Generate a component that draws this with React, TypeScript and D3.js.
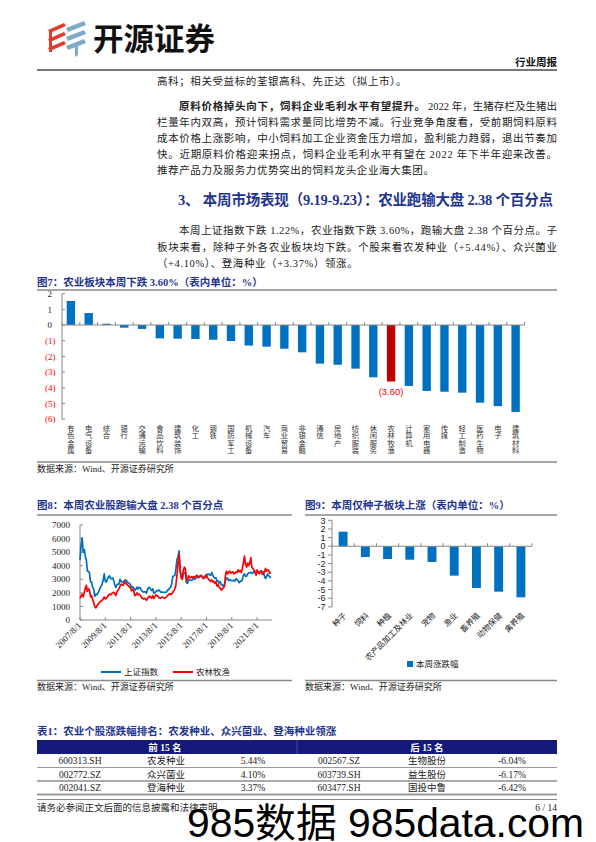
import React from "react";
import * as d3 from "d3";

// ---------- Figure 7 data ----------
const industries = ["有色金属","电气设备","综合","银行","交通运输","食品饮料","建筑装饰","化工","钢铁","国防军工","机械设备","汽车","商业贸易","非银金融","通信","房地产","纺织服装","休闲服务","农林牧渔","计算机","家用电器","传媒","轻工制造","医药生物","电子","建筑材料"];
const industryChanges = [1.53,0.76,0.08,-0.17,-0.25,-0.85,-0.87,-0.89,-0.94,-1.02,-1.31,-1.38,-1.51,-1.74,-2.46,-2.53,-2.78,-3.33,-3.60,-3.88,-4.20,-4.25,-4.31,-4.95,-5.17,-5.54];
const fig7Ticks = [2,1,0,-1,-2,-3,-4,-5,-6];
const highlightIndustry = "农林牧渔";

// ---------- Figure 8 data (monthly, 2007/8 - 2022/9) ----------
const sseValues = [
4400,5500,6050,5000,5200,
4700,4400,3600,3600,3450,2800,2800,2400,2250,1750,1900,1850,
1990,2150,2350,2500,2650,2950,3400,2850,2800,3000,3200,3250,
3050,3050,3100,2900,2600,2400,2600,2650,2650,3000,2850,2800,
2780,2900,2950,2920,2750,2750,2700,2580,2380,2450,2350,2200,
2280,2420,2280,2400,2380,2230,2110,2060,2080,2070,1980,2250,
2380,2380,2250,2180,2300,1990,2000,2100,2170,2150,2210,2120,
2040,2060,2040,2030,2040,2050,2200,2220,2360,2420,2680,3200,
3250,3300,3750,4450,4650,5100,3700,3250,3050,3380,3450,3550,
2750,2700,3000,2940,2920,2930,2980,3080,3000,3100,3250,3110,
3160,3240,3220,3150,3120,3190,3270,3360,3350,3390,3320,3310,
3500,3260,3170,3080,3100,2850,2880,2720,2820,2600,2590,2490,
2590,2940,3090,3080,2900,2980,2930,2890,2900,2930,2870,3050,
2980,2880,2750,2860,2850,2980,3310,3400,3220,3220,3390,3470,
3480,3510,3440,3450,3610,3590,3400,3540,3570,3550,3560,3640,
3360,3460,3250,3050,3190,3400,3250,3200,3090];
const agriValues = [
1600,1750,1900,1700,2000,
2350,2550,2100,2300,2200,1700,1800,1500,1300,950,900,1050,
1150,1250,1350,1400,1450,1550,1700,1550,1600,1700,1850,1900,
1850,1950,2000,2050,1950,1800,2050,2200,2300,2500,2650,2600,
2550,2750,2800,2650,2600,2500,2450,2350,2150,2250,2100,1800,
1850,2000,1850,1900,1850,1700,1600,1550,1600,1550,1450,1600,
1700,1750,1650,1600,1800,1600,1700,1850,1800,1750,1650,1600,
1650,1700,1650,1600,1650,1700,1800,1850,1950,1900,1900,2050,
2150,2300,2600,3300,4200,4850,3600,3100,3000,3650,3900,3750,
2900,3000,3250,3150,3100,3200,3100,3200,3150,3250,3300,3200,
3150,3250,3300,3200,3050,3100,3150,3300,3100,3000,2900,2850,
2950,2800,2850,2700,2800,2500,2600,2400,2350,2200,2300,2350,
2500,3300,3600,3400,3500,3600,3450,3500,3550,3400,3450,3550,
3500,3700,3550,3650,3500,3800,4200,4700,4100,3900,4200,4000,
4200,4600,3900,3800,3700,3500,3300,3700,3500,3400,3550,3600,
3400,3550,3500,3800,3600,3700,3650,3450,3500];
const fig8YTicks = [0,1000,2000,3000,4000,5000,6000,7000];
const fig8XTicks = ["2007/8/1","2009/8/1","2011/8/1","2013/8/1","2015/8/1","2017/8/1","2019/8/1","2021/8/1"];
const fig8Series = ["上证指数","农林牧渔"];

// ---------- Figure 9 data ----------
const subsectors = ["种子","饲料","种植","农产品加工及林业","宠物","渔业","畜养殖","动物保健","禽养殖"];
const subsectorChanges = [1.69,-1.24,-1.47,-1.55,-1.81,-3.39,-4.82,-5.24,-5.89];
const fig9Ticks = [3,2,1,0,-1,-2,-3,-4,-5,-6,-7];

// ---------- Table data ----------
const topCodes = ["600313.SH","002772.SZ","002041.SZ"];
const topNames = ["农发种业","众兴菌业","登海种业"];
const topChanges = ["5.44%","4.10%","3.37%"];
const bottomCodes = ["002567.SZ","603739.SH","603477.SH"];
const bottomNames = ["生物股份","益生股份","国投中鲁"];
const bottomChanges = ["-6.04%","-6.17%","-6.42%"];

const SERIF = "'Liberation Serif','Noto Sans CJK SC',serif";
const CJK = "'Noto Sans CJK SC','Liberation Sans',sans-serif";
const SANS = "'Liberation Sans','Noto Sans CJK SC',sans-serif";
const NAVY = "#1F3590";
const BLUE = "#0070C0";
const TEXT = "#222";

export default function App() {
  // Figure 7 scales
  const x7 = d3.scaleBand<string>().domain(industries).range([62, 524.5]).paddingInner(0.53).paddingOuter(0.265);
  const y7 = d3.scaleLinear().domain([-6, 2]).range([419.2, 293.6]);
  const step7 = x7.step();
  const left7 = 62;

  // Figure 8 scales
  const months8 = d3.timeMonth.range(new Date(2007, 7, 1), new Date(2022, 9, 1));
  const fmt = d3.timeFormat("%Y/%-m/%-d");
  const x8 = d3.scaleTime().domain([new Date(2007, 7, 1), new Date(2022, 9, 5)]).range([80, 272]);
  const y8 = d3.scaleLinear().domain([0, 7000]).range([620, 525]);
  const line8 = d3.line<number>().x((_, i) => x8(months8[i])).y(d => y8(d));
  const tickDates8 = fig8XTicks.map(s => {
    const [yy, mm, dd] = s.split("/").map(Number);
    return new Date(yy, mm - 1, dd);
  });

  // Figure 9 scales
  const x9 = d3.scaleBand<string>().domain(subsectors).range([332, 532]).paddingInner(0.6).paddingOuter(0.3);
  const y9 = d3.scaleLinear().domain([-7, 3]).range([606.9, 520.3]);
  const step9 = x9.step();

  const tableRows = topCodes.map((c, i) => i);

  return (
    <svg width={596} height={842} viewBox="0 0 596 842"
      style={{ position: "fixed", left: 0, top: 0, background: "#fff" }}>
      <rect x={0} y={0} width={596} height={842} fill="#fff" />

      {/* ---------- Header / logo ---------- */}
      <g>
        <path d="M48,30 L64,23 L66,26 L50,33 Z" fill="#E23B2E" />
        <path d="M48,39 L64,32 L66,35 L50,42 Z" fill="#E23B2E" />
        <path d="M48,48 L64,41 L66,44 L50,51 Z" fill="#E23B2E" />
        <path d="M49,30 L52,29 L52,52 L49,52 Z" fill="#E23B2E" />
        <path d="M66,28 L84,21 L86,25 L68,32 Z" fill="#7FA9C9" />
        <path d="M66,37 L84,30 L86,34 L68,41 Z" fill="#7FA9C9" />
        <path d="M66,46 L84,39 L86,43 L68,50 Z" fill="#7FA9C9" />
        <path d="M75,46 L78,46 L78,55 L75,57 Z" fill="#7FA9C9" />
        <text x={93} y={50} fontFamily={CJK} fontWeight={700} fontSize={30.5} fill="#111">开源证券</text>
      </g>
      <text x={557} y={66} textAnchor="end" fontFamily={CJK} fontWeight={700} fontSize={10.5} fill="#111">行业周报</text>
      <line x1={37} x2={557} y1={70} y2={70} stroke="#777" strokeWidth={1.8} />

      {/* ---------- Body text ---------- */}
      <g fontFamily={SERIF} fontSize={10.5} fill={TEXT}>
        <text x={157} y={85} letterSpacing={0.6}>高科；相关受益标的荃银高科、先正达（拟上市）。</text>
        <text x={179} y={109.5} fontWeight={700} textLength={246} lengthAdjust="spacing">原料价格掉头向下，饲料企业毛利水平有望提升。</text>
        <text x={428} y={109.5} textLength={129} lengthAdjust="spacing">2022 年，生猪存栏及生猪出</text>
        <text x={157} y={125.7} textLength={400} lengthAdjust="spacing">栏量年内双高，预计饲料需求量同比增势不减。行业竞争角度看，受前期饲料原料</text>
        <text x={157} y={141.9} textLength={400} lengthAdjust="spacing">成本价格上涨影响，中小饲料加工企业资金压力增加，盈利能力趋弱，退出节奏加</text>
        <text x={157} y={158.1} textLength={400} lengthAdjust="spacing">快。近期原料价格迎来拐点，饲料企业毛利水平有望在 2022 年下半年迎来改善。</text>
        <text x={157} y={174.3} letterSpacing={0.6}>推荐产品力及服务力优势突出的饲料龙头企业海大集团。</text>
      </g>
      <text x={178} y={205} fontFamily={SERIF} fontWeight={700} fontSize={14.5} fill={NAVY} textLength={375} lengthAdjust="spacing">3、 本周市场表现（9.19-9.23）：农业跑输大盘 2.38 个百分点</text>
      <g fontFamily={SERIF} fontSize={10.5} fill={TEXT}>
        <text x={179} y={234} textLength={378} lengthAdjust="spacing">本周上证指数下跌 1.22%，农业指数下跌 3.60%，跑输大盘 2.38 个百分点。子</text>
        <text x={157} y={250.5} textLength={400} lengthAdjust="spacing">板块来看，除种子外各农业板块均下跌。个股来看农发种业（+5.44%）、众兴菌业</text>
        <text x={157} y={267} letterSpacing={0.6}>（+4.10%）、登海种业（+3.37%）领涨。</text>
      </g>

      {/* ---------- Figure 7 ---------- */}
      <text x={37} y={286} fontFamily={SERIF} fontWeight={700} fontSize={10.5} fill={NAVY}>图7：农业板块本周下跌 3.60%（表内单位：%）</text>
      <line x1={37} x2={557} y1={290} y2={290} stroke="#888" strokeWidth={1.5} />
      <g>
        <line x1={left7} x2={left7} y1={y7(2)} y2={y7(-6)} stroke="#888" strokeWidth={1} />
        {fig7Ticks.map(t => (
          <g key={t}>
            <line x1={left7} x2={left7 + 3} y1={y7(t)} y2={y7(t)} stroke="#888" />
            <text x={t < 0 ? 55.5 : 52} y={y7(t) + 3.2} textAnchor="end" fontFamily={SERIF} fontSize={9}
              fill={t < 0 ? "#F00" : "#222"}>{t < 0 ? `(${-t})` : `${t}`}</text>
          </g>
        ))}
        {industries.map((name, i) => {
          const v = industryChanges[i];
          const x = x7(name)!;
          return (
            <rect key={name} x={x} width={x7.bandwidth()} y={y7(Math.max(0, v))}
              height={Math.abs(y7(v) - y7(0))} fill={name === highlightIndustry ? "#C00000" : BLUE} />
          );
        })}
        <line x1={left7} x2={left7 + step7 * industries.length} y1={y7(0)} y2={y7(0)} stroke="#888" strokeWidth={1} />
        {d3.range(industries.length + 1).map(i => (
          <line key={i} x1={left7 + i * step7} x2={left7 + i * step7} y1={y7(0) - 3} y2={y7(0)} stroke="#888" />
        ))}
        {industries.map((name, i) =>
          name === highlightIndustry ? (
            <text key={"l" + name} x={x7(name)! + x7.bandwidth() / 2} y={y7(industryChanges[i]) + 13}
              textAnchor="middle" fontFamily={SANS} fontSize={9.5} fill="#F00">({Math.abs(industryChanges[i]).toFixed(2)})</text>
          ) : null
        )}
        {industries.map(name => (
          <text key={"c" + name} x={x7(name)! + x7.bandwidth() / 2} y={424.5}
            style={{ writingMode: "vertical-rl" as any, textOrientation: "upright" as any }}
            fontFamily={CJK} fontSize={7.3} fill="#333">{name}</text>
        ))}
      </g>
      <line x1={37} x2={557} y1={462} y2={462} stroke="#888" strokeWidth={1.5} />
      <text x={37} y={472} fontFamily={SERIF} fontSize={9} fill="#222">数据来源：Wind、开源证券研究所</text>

      {/* ---------- Figure 8 ---------- */}
      <text x={37} y={509} fontFamily={SERIF} fontWeight={700} fontSize={10.5} fill={NAVY}>图8：本周农业股跑输大盘 2.38 个百分点</text>
      <line x1={37} x2={292} y1={515} y2={515} stroke="#888" strokeWidth={1.5} />
      <g>
        <line x1={80} x2={80} y1={y8(7000)} y2={y8(0)} stroke="#888" />
        {fig8YTicks.map(t => (
          <g key={t}>
            <line x1={80} x2={83} y1={y8(t)} y2={y8(t)} stroke="#888" />
            <text x={70} y={y8(t) + 3.2} textAnchor="end" fontFamily={SERIF} fontSize={9} fill="#222">{t}</text>
          </g>
        ))}
        <line x1={80} x2={272} y1={y8(0)} y2={y8(0)} stroke="#888" />
        {tickDates8.map((d, k) => {
          const x = x8(d);
          return (
            <g key={k}>
              <line x1={x} x2={x} y1={y8(0)} y2={y8(0) - 3} stroke="#888" />
              <text transform={`translate(${x + 2},${y8(0) + 6}) rotate(-45)`} textAnchor="end"
                fontFamily={SERIF} fontSize={9} fill="#222">{fmt(d)}</text>
            </g>
          );
        })}
        <path d={line8(sseValues) || ""} fill="none" stroke={BLUE} strokeWidth={1.7} strokeLinejoin="round" />
        <path d={line8(agriValues) || ""} fill="none" stroke="#FF0000" strokeWidth={1.7} strokeLinejoin="round" />
        <line x1={101} x2={121} y1={672} y2={672} stroke={BLUE} strokeWidth={2} />
        <text x={124} y={675} fontFamily={CJK} fontSize={8.5} fill="#222">{fig8Series[0]}</text>
        <line x1={173} x2={193} y1={672} y2={672} stroke="#FF0000" strokeWidth={2} />
        <text x={196} y={675} fontFamily={CJK} fontSize={8.5} fill="#222">{fig8Series[1]}</text>
      </g>
      <line x1={37} x2={292} y1={680.5} y2={680.5} stroke="#888" strokeWidth={1.5} />
      <text x={37} y={690} fontFamily={SERIF} fontSize={9} fill="#222">数据来源：Wind、开源证券研究所</text>

      {/* ---------- Figure 9 ---------- */}
      <text x={305} y={509} fontFamily={SERIF} fontWeight={700} fontSize={10.5} fill={NAVY}>图9：本周仅种子板块上涨（表内单位：%）</text>
      <line x1={305} x2={557} y1={515} y2={515} stroke="#888" strokeWidth={1.5} />
      <g>
        <line x1={332} x2={332} y1={y9(3)} y2={y9(-7)} stroke="#888" />
        {fig9Ticks.map(t => (
          <g key={t}>
            <line x1={328} x2={332} y1={y9(t)} y2={y9(t)} stroke="#888" />
            <text x={325.5} y={y9(t) + 3.2} textAnchor="end" fontFamily={SANS} fontSize={9} fill="#222">{t}</text>
          </g>
        ))}
        {subsectors.map((name, i) => {
          const v = subsectorChanges[i];
          return (
            <rect key={name} x={x9(name)!} width={x9.bandwidth()} y={y9(Math.max(0, v))}
              height={Math.abs(y9(v) - y9(0))} fill={BLUE} />
          );
        })}
        <line x1={332} x2={532} y1={y9(0)} y2={y9(0)} stroke="#888" />
        {d3.range(subsectors.length + 1).map(i => (
          <line key={i} x1={332 + i * step9} x2={332 + i * step9} y1={y9(0) - 3} y2={y9(0)} stroke="#888" />
        ))}
        {subsectors.map(name => {
          const cx = x9(name)! + x9.bandwidth() / 2;
          return (
            <text key={"t" + name} transform={`translate(${cx + 4},${616}) rotate(-45)`} textAnchor="end"
              fontFamily={CJK} fontSize={8} fill="#222">{name}</text>
          );
        })}
        <rect x={407} y={661} width={6} height={6} fill={BLUE} />
        <text x={416} y={667} fontFamily={CJK} fontSize={8.5} fill="#222">本周涨跌幅</text>
      </g>
      <line x1={305} x2={557} y1={680.5} y2={680.5} stroke="#888" strokeWidth={1.5} />
      <text x={305} y={690} fontFamily={SERIF} fontSize={9} fill="#222">数据来源：Wind、开源证券研究所</text>

      {/* ---------- Table ---------- */}
      <text x={37} y={735} fontFamily={SERIF} fontWeight={700} fontSize={10.5} fill={NAVY}>表1：农业个股涨跌幅排名：农发种业、众兴菌业、登海种业领涨</text>
      <rect x={37} y={740} width={520} height={14} fill="#14197A" />
      <line x1={297} x2={297} y1={740} y2={754} stroke="#4a4f9a" strokeWidth={1} />
      <text x={165} y={751} textAnchor="middle" fontFamily={SERIF} fontWeight={700} fontSize={9.5} fill="#fff">前 15 名</text>
      <text x={427} y={751} textAnchor="middle" fontFamily={SERIF} fontWeight={700} fontSize={9.5} fill="#fff">后 15 名</text>
      <g fontFamily={SERIF} fontSize={9.5} fill="#222" textAnchor="middle">
        {tableRows.map(i => {
          const y = 764 + i * 13.7;
          return (
            <g key={i}>
              <text x={80} y={y}>{topCodes[i]}</text>
              <text x={166} y={y}>{topNames[i]}</text>
              <text x={253} y={y}>{topChanges[i]}</text>
              <text x={339} y={y}>{bottomCodes[i]}</text>
              <text x={427} y={y}>{bottomNames[i]}</text>
              <text x={512} y={y}>{bottomChanges[i]}</text>
            </g>
          );
        })}
      </g>
      <line x1={37} x2={557} y1={767.5} y2={767.5} stroke="#999" strokeWidth={1} />
      <line x1={37} x2={557} y1={781} y2={781} stroke="#aaa" strokeWidth={2} />
      <line x1={37} x2={557} y1={794.5} y2={794.5} stroke="#999" strokeWidth={2} />
      <line x1={37} x2={557} y1={799.5} y2={799.5} stroke="#888" strokeWidth={1} />

      {/* ---------- Footer ---------- */}
      <text x={37} y={811} fontFamily={SERIF} fontSize={9.5} fill="#222">请务必参阅正文后面的信息披露和法律声明</text>
      <text x={557} y={811} textAnchor="end" fontFamily={SERIF} fontSize={9.5} fill="#222">6 / 14</text>
      <text x={187} y={837} fontFamily={SANS} fontSize={40} fill="#000" textLength={397} lengthAdjust="spacingAndGlyphs">985数据 985data.com</text>
    </svg>
  );
}
